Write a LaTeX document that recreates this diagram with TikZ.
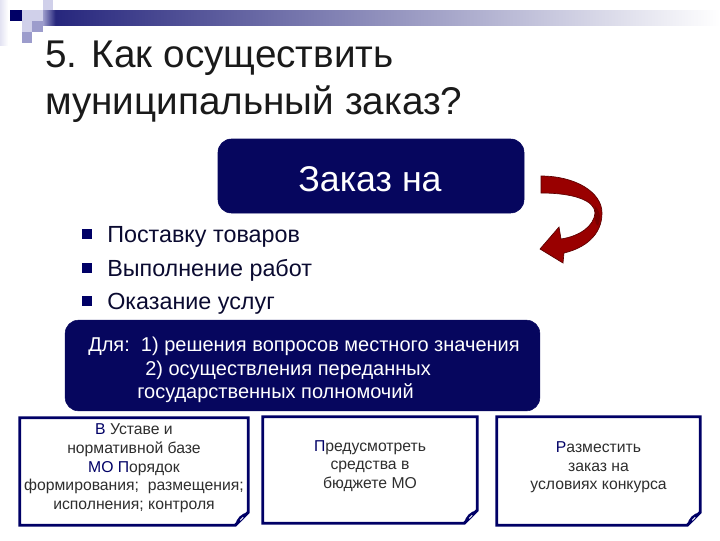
\documentclass[tikz,border=0pt]{standalone}
\usepackage{fontspec}
\setmainfont{Liberation Sans}
\definecolor{navy}{HTML}{000066}
\definecolor{navybox}{HTML}{06065E}
\definecolor{lav}{HTML}{D0D0EA}
\definecolor{lavmid}{HTML}{9C9CCC}
\definecolor{arrowred}{HTML}{990000}
\definecolor{arrowdark}{HTML}{5A0000}
\definecolor{txtdark}{HTML}{1A1A1A}
\definecolor{bultxt}{HTML}{0A0A30}
\definecolor{cardtxt}{HTML}{2E2E2E}
\tikzset{
  titletext/.style={anchor=base west, inner sep=0pt, text=txtdark, font=\fontsize{29}{34}\selectfont},
  darkbox/.style={fill=navybox, draw=navybox, rounded corners=10pt, inner sep=0pt},
  bullettext/.style={anchor=base west, inner sep=0pt, text=bultxt, font=\fontsize{17.5}{21}\selectfont},
  bulletsq/.style={fill=navy, minimum width=7.3pt, minimum height=7.3pt, inner sep=0pt},
  whitetext/.style={anchor=base west, inner sep=0pt, text=white, font=\fontsize{15}{18}\selectfont},
  card/.style={inner sep=0pt, minimum width=#1},
  cardline/.style={draw=navy, line width=2.2pt, fill=white, line join=miter},
  cardtext/.style={align=center, inner sep=0pt, text=cardtxt, font=\fontsize{11.8}{14}\selectfont},
}
\newcommand{\curlcorner}[1]{%
  \fill[navy] ([shift={(0,-13)}]#1) .. controls ([shift={(-4,-6)}]#1) and ([shift={(-8,-3)}]#1) .. ([shift={(-13,0)}]#1)
     .. controls ([shift={(-12,-7)}]#1) and ([shift={(-7,-12)}]#1) .. cycle;
  \draw[white, line width=0.6pt] ([shift={(-5,-8)}]#1) -- ([shift={(-8,-5)}]#1);
}
\begin{document}
\begin{tikzpicture}[x=0.75pt,y=-0.75pt]
\useasboundingbox (0,0) rectangle (720,540);
% top-left decoration
\shade[left color=lav!60, right color=white] (0,0) rectangle (8,45);
\shade[left color=navy!85, right color=white] (55,10) rectangle (720,25);
\shade[left color=lavmid, right color=navy!85] (43,10) rectangle (55.5,25);
\fill[navy] (10,10) rectangle (22,21);
\fill[lav] (22,10) rectangle (32,21);
\fill[lav] (32,10) rectangle (43,21);
\fill[lav] (43,0) rectangle (53,10);
\fill[lav] (22,21) rectangle (32,32);
\fill[lavmid] (32,21) rectangle (43,32);
\fill[lavmid] (22,32) rectangle (32,43);
% title
\node[titletext] (title1) at (45,67) {5. Как осуществить};
\node[titletext] (title2) at (45,114) {муниципальный заказ?};
% top box
\node[darkbox, minimum width=229.5pt, minimum height=55.5pt] (order) at (371,176) {};
\node[inner sep=0pt, text=white, font=\fontsize{26.8}{30}\selectfont, anchor=base] (ordertxt) at (370,191) {Заказ на};
% bullets
\node[bulletsq] (sq1) at (87,234) {};
\node[bulletsq] (sq2) at (87,268) {};
\node[bulletsq] (sq3) at (87,301) {};
\node[bullettext] (it1) at (107,242) {Поставку товаров};
\node[bullettext] (it2) at (107,276) {Выполнение работ};
\node[bullettext] (it3) at (107,309) {Оказание услуг};
% curved red arrow
\filldraw[fill=arrowred, draw=arrowdark, line width=0.5pt]
  (541,176) .. controls (575,176) and (602,192) .. (602,213)
  .. controls (602,235) and (585,248) .. (564,253)
  -- (563,263) -- (540,249) -- (559,227) -- (561,239)
  .. controls (580,236) and (594,226) .. (595,213)
  .. controls (595,201) and (575,193) .. (541,193) -- cycle;
\fill[arrowdark, opacity=0.5] (595,206) .. controls (601,212) and (601,220) .. (598,226)
  .. controls (594,224) and (595,216) .. (595,213) -- cycle;
% purpose box
\node[darkbox, minimum width=356pt, minimum height=68pt] (purpose) at (302.5,365.5) {};
\node[whitetext] (p1) at (88,351) {Для:\ \ 1) решения вопросов местного значения};
\node[whitetext] (p2) at (145,375) {2) осуществления переданных};
\node[whitetext] (p3) at (137,398) {государственных полномочий};
% cards
\node[card=171pt, minimum height=80.25pt] (c1) at (134,471.5) {};
\node[card=160.5pt, minimum height=79.5pt] (c2) at (370,470) {};
\node[card=152.25pt, minimum height=81pt] (c3) at (598.5,471) {};
\foreach \c in {c1,c2,c3}{
  \draw[cardline] (\c.north west) -- (\c.north east) -- ([shift={(0,-13)}]\c.south east)
     -- ([shift={(-13,0)}]\c.south east) -- (\c.south west) -- cycle;
  \curlcorner{\c.south east}
}
\node[cardtext] (t1) at (134,468.5) {{\color{navy}В} Уставе и\\нормативной базе\\{\color{navy}МО П}орядок\\формирования;\ \ размещения;\\исполнения; контроля};
\node[cardtext] (t2) at (370,466) {{\color{navy}П}редусмотреть\\средства в\\бюджете МО};
\node[cardtext] (t3) at (598.5,467.5) {{\color{navy}Р}азместить\\заказ на\\условиях конкурса};
\end{tikzpicture}
\end{document}
